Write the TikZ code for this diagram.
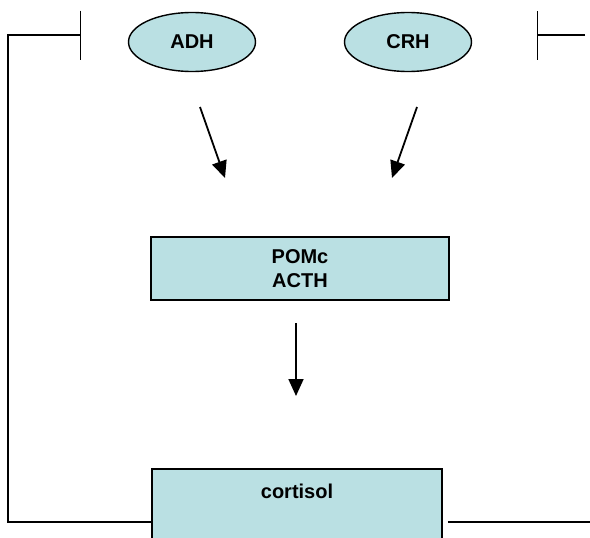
\documentclass[tikz,border=0pt]{standalone}
\usepackage{fontspec}
\setmainfont{Liberation Sans}
\usetikzlibrary{arrows.meta,shapes.geometric}

\definecolor{paleblue}{RGB}{186,224,227}

\begin{document}
\begin{tikzpicture}[x=1pt,y=-1pt,>={Triangle[length=17pt,width=15pt]},
                    line width=1.4pt]

  \tikzstyle{hormone}=[ellipse,draw,fill=paleblue,minimum width=127pt,
                       minimum height=59pt,font=\bfseries\fontsize{20}{24}\selectfont]
  \tikzstyle{gland}=[rectangle,draw,fill=paleblue,line width=1.5pt,align=center,
                     font=\bfseries\fontsize{20}{24}\selectfont]
  \tikzstyle{inhibit}=[-{Bar[width=49pt]}]

  \useasboundingbox (0,0) rectangle (590,538);
  \clip (0,0) rectangle (590,538);

  \node[hormone] (ADH) at (192,42) {ADH};
  \node[hormone] (CRH) at (408,42) {CRH};

  \node[gland,minimum width=298pt,minimum height=63pt] (POMC) at (300,268.5)
       {POMc\\ACTH};
  \node[gland,anchor=north,minimum width=290pt,text height=14pt,text depth=46pt,
        inner ysep=16pt] (CORT) at (297,468) {cortisol};

  \coordinate (adhA) at (200,107);
  \coordinate (adhB) at (225,178);
  \coordinate (crhA) at (417,107);
  \coordinate (crhB) at (392,178);
  \coordinate (pomA) at (296,323);
  \coordinate (pomB) at (296,396);

  \draw[->,line width=1.8pt] (adhA) -- (adhB);
  \draw[->,line width=1.8pt] (crhA) -- (crhB);
  \draw[->,line width=1.8pt] (pomA) -- (pomB);

  % feedback loop
  \coordinate (leftBot) at (8,522);
  \coordinate (leftTop) at (8,35);
  \coordinate (leftBar) at (81,35);
  \coordinate (rightBot) at (590,522);
  \coordinate (rightEnd) at (585,35);
  \coordinate (rightBar) at (537,35);

  \draw[inhibit] (CORT.west |- leftBot) -- (leftBot) -- (leftTop) -- (leftBar);
  \draw ([xshift=5pt]CORT.east |- rightBot) -- (rightBot);
  \draw[inhibit] (rightEnd) -- (rightBar);
\end{tikzpicture}
\end{document}
